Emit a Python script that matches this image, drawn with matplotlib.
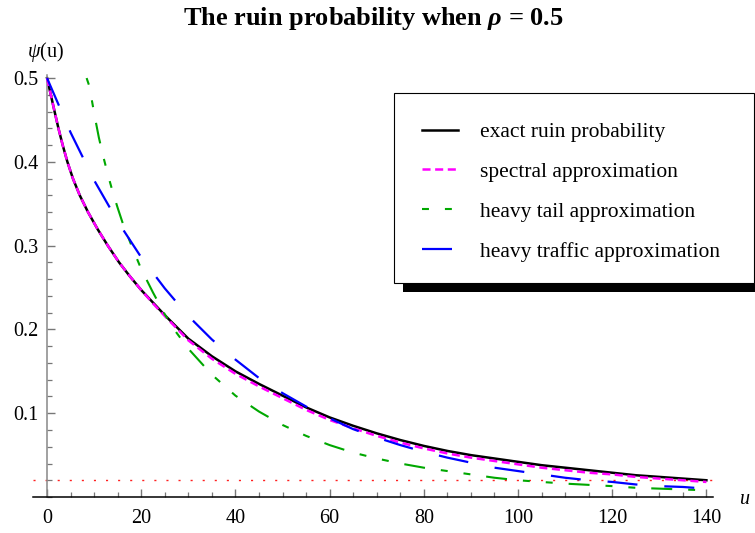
import matplotlib
matplotlib.use("Agg")
import matplotlib.pyplot as plt
from matplotlib.patches import Rectangle

plt.rcParams['font.family'] = ['Liberation Serif', 'DejaVu Serif']
plt.rcParams['mathtext.fontset'] = 'custom'
plt.rcParams['mathtext.rm'] = 'Liberation Serif'
plt.rcParams['mathtext.it'] = 'Liberation Serif:italic'
plt.rcParams['mathtext.bf'] = 'Liberation Serif:bold'
plt.rcParams['mathtext.bfit'] = 'Liberation Serif:italic:bold'
plt.rcParams['lines.scale_dashes'] = False

# exact ruin probability and spectral approximation
u_exact = [0, 0.8, 1.6, 2.42, 3.32, 4.32, 5.5, 6.95, 8.7, 10.7, 12.9, 15.3, 17.5, 20,
           22.5, 25, 30, 35, 40, 45, 50, 55, 60, 65, 70, 75, 80, 85, 90, 95, 100, 105,
           110, 115, 120, 125, 130, 135, 140]
psi_exact = [0.500, 0.480, 0.460, 0.440, 0.420, 0.400, 0.380, 0.360, 0.340, 0.320,
             0.300, 0.280, 0.264, 0.247, 0.232, 0.217, 0.189, 0.168, 0.150, 0.135,
             0.121, 0.107, 0.095, 0.085, 0.076, 0.068, 0.061, 0.055, 0.050, 0.046,
             0.042, 0.038, 0.035, 0.032, 0.029, 0.026, 0.024, 0.022, 0.020]
psi_spectral = [0.500, 0.480, 0.460, 0.440, 0.420, 0.400, 0.380, 0.360, 0.340, 0.320,
                0.300, 0.280, 0.264, 0.247, 0.231, 0.216, 0.187, 0.165, 0.147, 0.132,
                0.118, 0.104, 0.092, 0.082, 0.073, 0.065, 0.058, 0.052, 0.047, 0.043,
                0.039, 0.035, 0.032, 0.029, 0.027, 0.024, 0.022, 0.020, 0.018]

# heavy tail approximation
u_tail = [8.4, 9, 10, 11, 12, 13, 14, 15, 16, 18, 20, 22.5, 25, 27.5, 30, 35, 40, 45,
          50, 55, 60, 65, 70, 75, 80, 85, 90, 95, 100, 105, 110, 115, 120, 125, 130,
          135, 140]
psi_tail = [0.500, 0.490, 0.458, 0.429, 0.405, 0.383, 0.363, 0.345, 0.328, 0.299,
            0.272, 0.244, 0.218, 0.196, 0.177, 0.146, 0.121, 0.102, 0.086, 0.073,
            0.062, 0.053, 0.046, 0.040, 0.035, 0.031, 0.027, 0.023, 0.020, 0.018,
            0.016, 0.0145, 0.013, 0.011, 0.010, 0.009, 0.008]

# heavy traffic approximation
u_traffic = [0, 5, 10, 15, 20, 25, 30, 35, 40, 45, 50, 55, 60, 65, 70, 75, 80, 85, 90,
             95, 100, 105, 110, 115, 120, 125, 130, 135, 140]
psi_traffic = [0.500, 0.435, 0.378, 0.329, 0.286, 0.249, 0.216, 0.188, 0.164, 0.142,
               0.124, 0.108, 0.094, 0.081, 0.071, 0.062, 0.054, 0.047, 0.041, 0.035,
               0.031, 0.027, 0.023, 0.020, 0.018, 0.015, 0.013, 0.012, 0.010]

level = 0.02
x_ticks = [0, 20, 40, 60, 80, 100, 120, 140]
y_ticks = [0.1, 0.2, 0.3, 0.4, 0.5]

fig = plt.figure(figsize=(7.55, 5.33), dpi=100)
ax = fig.add_axes([0.0436, 0.0675, 0.9014, 0.7917])
ax.set_xlim(-3, 141.5)
ax.set_ylim(0, 0.5036)

ax.axhline(level, color='#ff2020', lw=1.0, linestyle=(0, (1.5, 7.2)), zorder=1)
ax.plot(u_exact, psi_exact, color='black', lw=1.8, label='exact ruin probability', zorder=2)
ax.plot(u_exact, psi_spectral, color='#ff00ff', lw=1.8, linestyle=(0, (5.8, 3.3)),
        label='spectral approximation', zorder=3)
ax.plot(u_tail, psi_tail, color='#00a800', lw=1.5,
        linestyle=(0, (5.0, 11.5, 5.0, 11.5, 15.1, 11.5)),
        label='heavy tail approximation', zorder=4)
ax.plot(u_traffic, psi_traffic, color='#0000ff', lw=1.6, linestyle=(0, (21.6, 19.4)),
        label='heavy traffic approximation', zorder=5)

for s in ['top', 'right']:
    ax.spines[s].set_visible(False)
ax.spines['left'].set_position(('data', 0))
ax.spines['left'].set_color('#888888')
ax.spines['bottom'].set_color('black')
ax.spines['left'].set_linewidth(1.1)
ax.spines['bottom'].set_linewidth(1.1)

ax.set_xticks(x_ticks)
ax.set_xticks([v for v in range(0, 141, 5)], minor=True)
ax.set_yticks(y_ticks)
ax.set_yticklabels([str(v) for v in y_ticks])
ax.set_yticks([v / 100 for v in range(0, 51, 2)], minor=True)
ax.tick_params(which='both', direction='in', colors='#777777', labelcolor='black',
               labelsize=14.5)
ax.tick_params(which='major', length=6, width=1.0)
ax.tick_params(which='minor', length=3.8, width=0.9)
ax.tick_params(axis='x', which='major', pad=8.5)
ax.tick_params(axis='y', which='major', pad=6)

fig.text(0.495, 1 - 18 / 533, r"The ruin probability when $\mathbfit{\rho}$ = 0.5",
         ha='center', va='center', fontsize=19, fontweight='bold')
fig.text(46 / 755, 1 - 52 / 533, r"$\mathit{\psi}$(u)", ha='center', va='center',
         fontsize=14.5)
fig.text(745 / 755, 1 - 499 / 533, 'u', ha='center', va='center', fontsize=14.5,
         style='italic')

# legend box with hard shadow
ax.add_patch(Rectangle((403 / 755, 1 - 292 / 533), 360 / 755, 190 / 533,
                       transform=fig.transFigure, facecolor='black', edgecolor='none',
                       clip_on=False, zorder=10))
ax.add_patch(Rectangle((394 / 755, 1 - 283 / 533), 360 / 755, 190 / 533,
                       transform=fig.transFigure, facecolor='white', edgecolor='black',
                       lw=0.8, clip_on=False, zorder=11))
leg = ax.legend(loc='upper left', bbox_to_anchor=(422 / 755, 1 - 122 / 533),
                bbox_transform=fig.transFigure, frameon=False, fontsize=15.5,
                handlelength=1.67, handletextpad=1.02, labelspacing=0.92,
                borderpad=0, borderaxespad=0)
leg.set_zorder(20)

fig.savefig('out.png', dpi=100)
